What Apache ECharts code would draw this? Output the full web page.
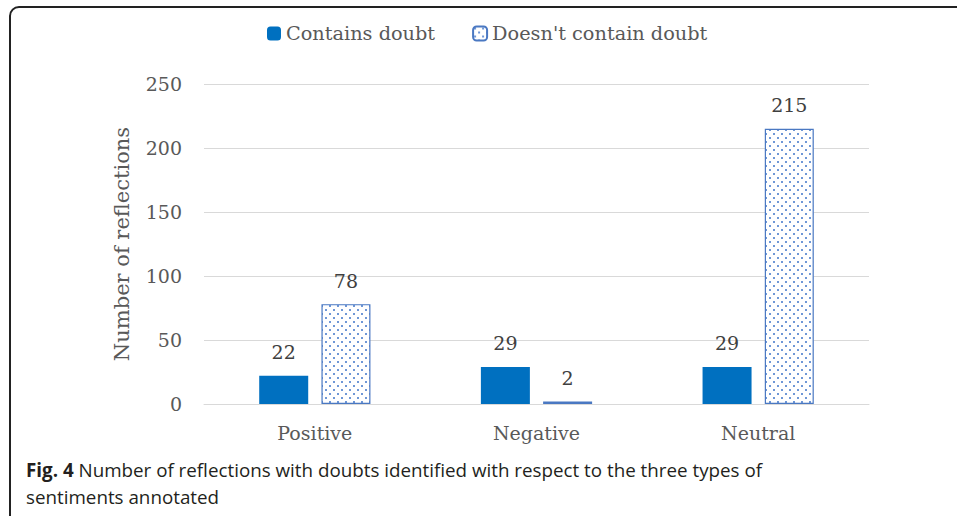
<!DOCTYPE html>
<html>
<head>
<meta charset="utf-8">
<script src="https://cdn.jsdelivr.net/npm/echarts@6/dist/echarts.min.js"></script>
<style>
  html, body { margin: 0; padding: 0; background: #fff; }
  #chart { width: 957px; height: 516px; }
</style>
</head>
<body>
<div id="chart"></div>
<script>
// Chart data
var categories = ['Positive', 'Negative', 'Neutral'];
var containsDoubt = [22, 29, 29];
var noDoubt = [78, 2, 215];
var seriesNames = ['Contains doubt', "Doesn't contain doubt"];

// small dot pattern for the second series
function dotPattern() {
    var c = document.createElement('canvas');
    c.width = 8;
    c.height = 8;
    var ctx = c.getContext('2d');
    ctx.fillStyle = '#fff';
    ctx.fillRect(0, 0, 8, 8);
    ctx.fillStyle = '#6f97d6';
    ctx.fillRect(1, 1, 2, 2);
    ctx.fillRect(5, 5, 2, 2);
    return c.toDataURL();
}

var chartDom = document.getElementById('chart');
var myChart = echarts.init(chartDom, null, { renderer: 'svg' });
var serifFont = 'DejaVu Serif';

var option = {
    animation: false,
    title: {
        text: '{b|Fig. 4} Number of reflections with doubts identified with respect to the three types of\nsentiments annotated',
        left: 21,
        top: 451,
        textStyle: {
            fontFamily: 'Open Sans',
            fontSize: 18.8,
            fontWeight: 'normal',
            color: '#231f20',
            lineHeight: 27,
            rich: {
                b: { fontFamily: 'Open Sans', fontSize: 18.8, fontWeight: 'bold', color: '#231f20', lineHeight: 27 }
            }
        }
    },
    legend: {
        top: 19,
        left: 262,
        itemWidth: 14,
        itemHeight: 14,
        itemGap: 37,
        textStyle: { fontFamily: serifFont, fontSize: 19.3, color: '#595959' },
        data: seriesNames
    },
    grid: {
        left: 204,
        right: 88,
        top: 84,
        bottom: 112
    },
    xAxis: {
        type: 'category',
        data: categories,
        axisTick: { show: false },
        axisLine: { lineStyle: { color: '#d9d9d9', width: 1 } },
        axisLabel: { fontFamily: serifFont, fontSize: 19, color: '#595959', margin: 19 }
    },
    yAxis: {
        type: 'value',
        min: 0,
        max: 250,
        interval: 50,
        name: 'Number of reflections',
        nameLocation: 'middle',
        nameGap: 72,
        nameTextStyle: { fontFamily: serifFont, fontSize: 21, color: '#595959' },
        axisLabel: { fontFamily: serifFont, fontSize: 19, color: '#595959', margin: 22 },
        splitLine: { lineStyle: { color: '#d9d9d9', width: 1 } }
    },
    series: [
        {
            name: seriesNames[0],
            type: 'bar',
            data: containsDoubt,
            barWidth: 49,
            barGap: '27%',
            itemStyle: { color: '#0070c0' },
            label: {
                show: true,
                position: 'top',
                distance: 14,
                fontFamily: serifFont,
                fontSize: 19,
                color: '#404040'
            }
        },
        {
            name: seriesNames[1],
            type: 'bar',
            data: noDoubt,
            barWidth: 49,
            itemStyle: {
                color: { image: dotPattern(), repeat: 'repeat' },
                borderColor: '#4a78c2',
                borderWidth: 1.2
            },
            label: {
                show: true,
                position: 'top',
                distance: 14,
                fontFamily: serifFont,
                fontSize: 19,
                color: '#404040'
            }
        }
    ],
    graphic: [
        {
            type: 'rect',
            shape: { x: 10, y: 7, width: 1000, height: 560, r: 9 },
            style: { fill: 'none', stroke: '#222', lineWidth: 2 },
            silent: true
        }
    ]
};

myChart.setOption(option);
</script>
</body>
</html>
